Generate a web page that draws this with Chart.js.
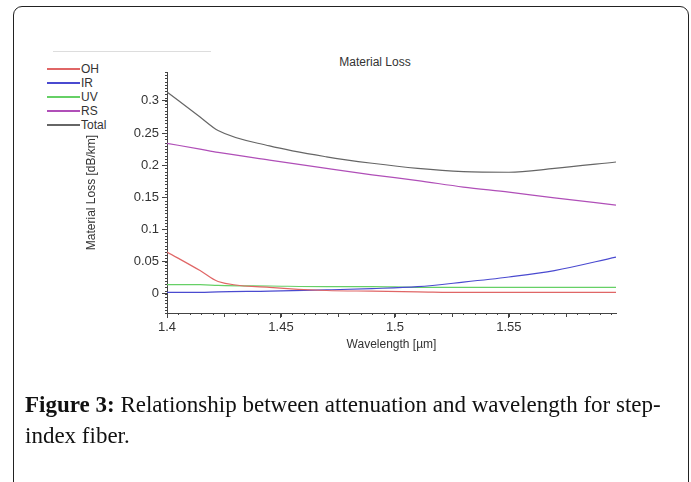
<!DOCTYPE html>
<html lang="en">
  <head>
    <meta charset="UTF-8" />
    <title>Material Loss</title>
    <script src="https://cdn.jsdelivr.net/npm/chart.js"></script>
    <style>
      body {
        margin: 0;
        background: #fff;
        font-family: "Liberation Sans", Arial, sans-serif;
      }
      .frame {
        position: absolute;
        left: 13px;
        top: 6px;
        width: 674px;
        height: 520px;
        border: 1.5px solid #222;
        border-radius: 9px;
      }
      .toolbar {
        position: absolute;
        left: 53px;
        top: 51px;
        width: 158px;
        border-top: 1px solid #ddd;
      }
      #chart {
        position: absolute;
        left: 0;
        top: 0;
      }
      .title {
        position: absolute;
        left: 300px;
        width: 150px;
        top: 55px;
        text-align: center;
        font-size: 12px;
        color: #333;
      }
      .legend {
        position: absolute;
        left: 47px;
        top: 62px;
        font-size: 12px;
        color: #333;
      }
      .legend div {
        height: 14px;
        line-height: 14px;
        display: flex;
        align-items: center;
      }
      .legend span.swatch {
        display: inline-block;
        width: 33px;
        height: 0;
        margin-right: 1px;
      }
      .caption {
        position: absolute;
        left: 25px;
        top: 389px;
        width: 648px;
        font-family: "Liberation Serif", "Times New Roman", serif;
        font-size: 23px;
        line-height: 31px;
        color: #111;
      }
    </style>
  </head>
  <body>
    <div class="frame"></div>
    <div class="toolbar"></div>
    <div class="title">Material Loss</div>
    <div class="legend" id="legend"></div>
    <canvas id="chart" width="691" height="482"></canvas>
    <div class="caption">
      <b>Figure 3:</b> Relationship between attenuation and wavelength for step-index fiber.
    </div>

    <script>
      // Values
      const wavelength = [1.4, 1.4145, 1.4224, 1.445, 1.47, 1.49, 1.51, 1.53, 1.55, 1.57, 1.597];
      const ohLoss = [0.065, 0.036, 0.019, 0.01, 0.005, 0.004, 0.003, 0.002, 0.002, 0.002, 0.002];
      const irLoss = [0.002, 0.002, 0.003, 0.004, 0.006, 0.008, 0.011, 0.018, 0.026, 0.036, 0.057];
      const uvLoss = [0.014, 0.014, 0.013, 0.012, 0.011, 0.011, 0.01, 0.01, 0.01, 0.01, 0.01];
      const rsLoss = [0.234, 0.225, 0.22, 0.208, 0.195, 0.185, 0.176, 0.166, 0.158, 0.149, 0.138];
      const totalLoss = [0.314, 0.275, 0.254, 0.23, 0.213, 0.203, 0.195, 0.19, 0.189, 0.195, 0.205];

      const xTicks = [1.4, 1.45, 1.5, 1.55];
      const yTicks = [0, 0.05, 0.1, 0.15, 0.2, 0.25, 0.3];

      const series = [
        { label: "OH", data: ohLoss, color: "#e06666" },
        { label: "IR", data: irLoss, color: "#4a4ad0" },
        { label: "UV", data: uvLoss, color: "#66d066" },
        { label: "RS", data: rsLoss, color: "#b04fb8" },
        { label: "Total", data: totalLoss, color: "#666" },
      ];

      // legend in the top left corner
      const legend = document.getElementById("legend");
      series.forEach((s) => {
        const row = document.createElement("div");
        const swatch = document.createElement("span");
        swatch.className = "swatch";
        swatch.style.borderTop = "2px solid " + s.color;
        row.appendChild(swatch);
        row.appendChild(document.createTextNode(s.label));
        legend.appendChild(row);
      });

      // small ticks along both axes
      const minorTicks = {
        id: "minorTicks",
        afterDraw(chart) {
          const ctx = chart.ctx;
          const x = chart.scales.x;
          const y = chart.scales.y;
          ctx.save();
          ctx.strokeStyle = "#444";
          ctx.lineWidth = 1;
          ctx.beginPath();
          for (let i = -6; i <= 69; i++) {
            const py = Math.round(y.getPixelForValue(i * 0.005)) + 0.5;
            ctx.moveTo(x.left - 2, py);
            ctx.lineTo(x.left, py);
          }
          for (let i = 0; i <= 39; i++) {
            const v = 1.4 + i * 0.005;
            const px = Math.round(x.getPixelForValue(v)) + 0.5;
            const len = i % 5 === 0 ? 4 : 2;
            ctx.moveTo(px, y.bottom);
            ctx.lineTo(px, y.bottom + len);
          }
          ctx.stroke();
          ctx.restore();
        },
      };

      new Chart(document.getElementById("chart"), {
        type: "line",
        data: {
          labels: wavelength,
          datasets: series.map((s) => ({
            label: s.label,
            data: s.data.map((v, i) => ({ x: wavelength[i], y: v })),
            borderColor: s.color,
            backgroundColor: s.color,
            borderWidth: 1.2,
            pointRadius: 0,
            cubicInterpolationMode: "monotone",
            fill: false,
          })),
        },
        options: {
          responsive: false,
          animation: false,
          layout: {
            autoPadding: false,
            padding: { left: 84, top: 72, right: 75, bottom: 130 },
          },
          plugins: {
            legend: { display: false },
            title: { display: false },
            tooltip: { enabled: false },
          },
          scales: {
            x: {
              type: "linear",
              min: 1.4,
              max: 1.597,
              afterBuildTicks: (scale) => {
                scale.ticks = xTicks.map((v) => ({ value: v }));
              },
              afterFit: (scale) => {
                scale.height = 39;
              },
              grid: { drawOnChartArea: false, tickLength: 5, color: "#444" },
              border: { color: "#444" },
              ticks: {
                color: "#333",
                padding: 2,
                font: { family: "Liberation Sans", size: 13 },
                callback: (v) => String(v),
              },
              title: {
                display: true,
                text: "Wavelength [µm]",
                color: "#333",
                padding: 0,
                font: { family: "Liberation Sans", size: 12 },
              },
            },
            y: {
              min: -0.03,
              max: 0.345,
              afterBuildTicks: (scale) => {
                scale.ticks = yTicks.map((v) => ({ value: v }));
              },
              afterFit: (scale) => {
                scale.width = 83;
              },
              grid: { drawOnChartArea: false, tickLength: 5, color: "#444" },
              border: { color: "#444" },
              ticks: {
                color: "#333",
                padding: 3,
                font: { family: "Liberation Sans", size: 13 },
                callback: (v) => String(+v.toFixed(3)),
              },
              title: {
                display: true,
                text: "Material Loss [dB/km]",
                color: "#333",
                padding: 0,
                font: { family: "Liberation Sans", size: 12 },
              },
            },
          },
        },
        plugins: [minorTicks],
      });
    </script>
  </body>
</html>
